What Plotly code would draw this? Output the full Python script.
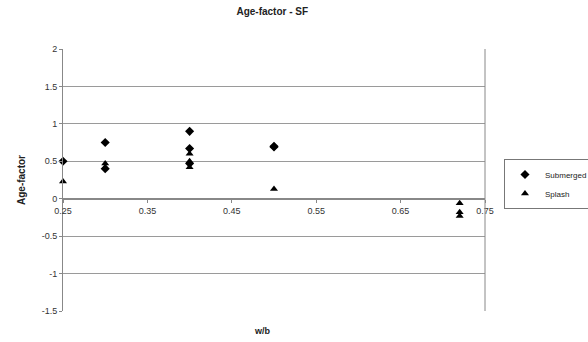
import plotly.graph_objects as go

# Data
wb_submerged = [0.25, 0.30, 0.30, 0.40, 0.40, 0.40, 0.50, 0.50]
age_submerged = [0.50, 0.75, 0.40, 0.90, 0.67, 0.47, 0.70, 0.69]
wb_splash = [0.25, 0.30, 0.30, 0.40, 0.40, 0.40, 0.50, 0.72, 0.72, 0.72]
age_splash = [0.23, 0.47, 0.42, 0.60, 0.50, 0.42, 0.13, -0.06, -0.18, -0.23]

x_ticks = [0.25, 0.35, 0.45, 0.55, 0.65, 0.75]
y_ticks = [-1.5, -1, -0.5, 0, 0.5, 1, 1.5, 2]

FONT = "Liberation Sans, Arial, sans-serif"
GRID = "#9a9a9a"

fig = go.Figure()
fig.add_trace(go.Scatter(
    x=wb_submerged, y=age_submerged, mode="markers", name="Submerged",
    marker=dict(symbol="diamond", size=7, color="black"), cliponaxis=False))
fig.add_trace(go.Scatter(
    x=wb_splash, y=age_splash, mode="markers", name="Splash",
    marker=dict(symbol="triangle-up", size=7, color="black"), cliponaxis=False))

y_min, y_max = -1.5, 2
fig.update_layout(
    width=588, height=342,
    margin=dict(l=63, r=103, t=49, b=31, autoexpand=False),
    paper_bgcolor="white", plot_bgcolor="white",
    font=dict(family=FONT, size=9, color="#222"),
    title=dict(text="<b>Age-factor - SF</b>", x=0.463, xanchor="center",
               y=0.965, yanchor="middle", yref="container",
               font=dict(size=10, family=FONT, color="#222")),
    showlegend=True,
    legend=dict(x=1.045, y=0.58, xanchor="left", yanchor="top",
                bordercolor="#777", borderwidth=1, font=dict(size=8, family=FONT),
                tracegroupgap=0, itemwidth=30),
    xaxis=dict(range=[0.25, 0.75], tickvals=x_ticks,
               ticktext=[f"{v:.2f}" for v in x_ticks],
               anchor="free", position=(0 - y_min) / (y_max - y_min),
               automargin=False,
               showline=True, linecolor="#888", linewidth=1,
               ticks="outside", ticklen=3, tickcolor="#888",
               showgrid=False, zeroline=False,
               tickfont=dict(size=9, family=FONT, color="#333")),
    yaxis=dict(range=[y_min, y_max], tickvals=y_ticks,
               ticktext=[f"{v:g}" for v in y_ticks],
               automargin=False,
               showline=True, linecolor="#888", linewidth=1,
               ticks="outside", ticklen=3, tickcolor="#888",
               showgrid=True, gridcolor=GRID, gridwidth=1,
               zeroline=True, zerolinecolor="#888", zerolinewidth=1,
               title=dict(text="<b>Age-factor</b>", standoff=14,
                          font=dict(size=10, family=FONT, color="#222")),
               tickfont=dict(size=9, family=FONT, color="#333")),
    shapes=[dict(type="line", xref="paper", yref="paper", x0=1, x1=1, y0=0, y1=1,
                 line=dict(color="#888", width=1))],
    annotations=[dict(text="<b>w/b</b>", xref="paper", yref="paper",
                      x=0.473, y=-0.076, xanchor="center", yanchor="middle",
                      showarrow=False, font=dict(size=9, family=FONT, color="#222"))],
)

fig.write_html("out.html", config={"displayModeBar": False},
               post_script="document.body.style.margin='0px';")
